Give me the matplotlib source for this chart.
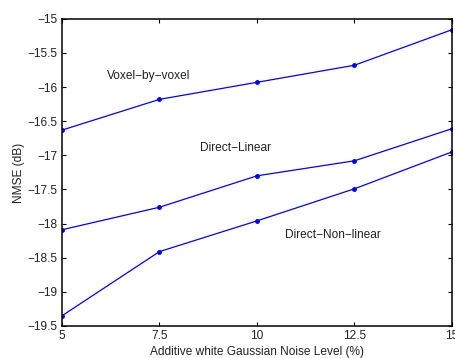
import matplotlib
matplotlib.use("Agg")
import matplotlib.pyplot as plt

# noise level (%) on x axis
noise = [5, 7.5, 10, 12.5, 15]

# NMSE (dB) for each method
voxel = [-16.63, -16.18, -15.93, -15.68, -15.16]
direct_lin = [-18.09, -17.76, -17.30, -17.08, -16.61]
direct_nonlin = [-19.35, -18.41, -17.96, -17.49, -16.95]

labels = ["Voxel\u2212by\u2212voxel", "Direct\u2212Linear", "Direct\u2212Non\u2212linear"]
label_pos = [(6.15, -15.84), (8.54, -16.89), (10.71, -18.16)]

plt.rcParams['font.family'] = ['Liberation Sans', 'DejaVu Sans']
fs = 8.6

fig = plt.figure(figsize=(4.56, 3.58), dpi=100)
ax = fig.add_axes([0.136, 0.0894, 0.855, 0.858])

for series in (voxel, direct_lin, direct_nonlin):
    ax.plot(noise, series, color='#0000ff', lw=0.9, marker='.', markersize=5)

for txt, (x, y) in zip(labels, label_pos):
    ax.text(x, y, txt, fontsize=fs, ha='left', va='center', color='#222222')

ax.set_xlim(5, 15)
ax.set_ylim(-19.5, -15)
ax.set_xticks(noise)
ax.set_xticklabels(["5", "7.5", "10", "12.5", "15"])
ax.set_yticks([-19.5, -19, -18.5, -18, -17.5, -17, -16.5, -16, -15.5, -15])
ax.set_yticklabels(["\u221219.5", "\u221219", "\u221218.5", "\u221218", "\u221217.5",
                    "\u221217", "\u221216.5", "\u221216", "\u221215.5", "\u221215"])
ax.tick_params(direction='in', top=True, right=True, labelsize=fs, length=3, width=0.8, pad=3,
               labelcolor='#222222')
for s in ax.spines.values():
    s.set_linewidth(1.1)

ax.set_xlabel("Additive white Gaussian Noise Level (%)", fontsize=fs, labelpad=2.5, color='#222222')
ax.set_ylabel("NMSE (dB)", fontsize=fs, labelpad=2, color='#222222')

fig.savefig("out.png", dpi=100)
